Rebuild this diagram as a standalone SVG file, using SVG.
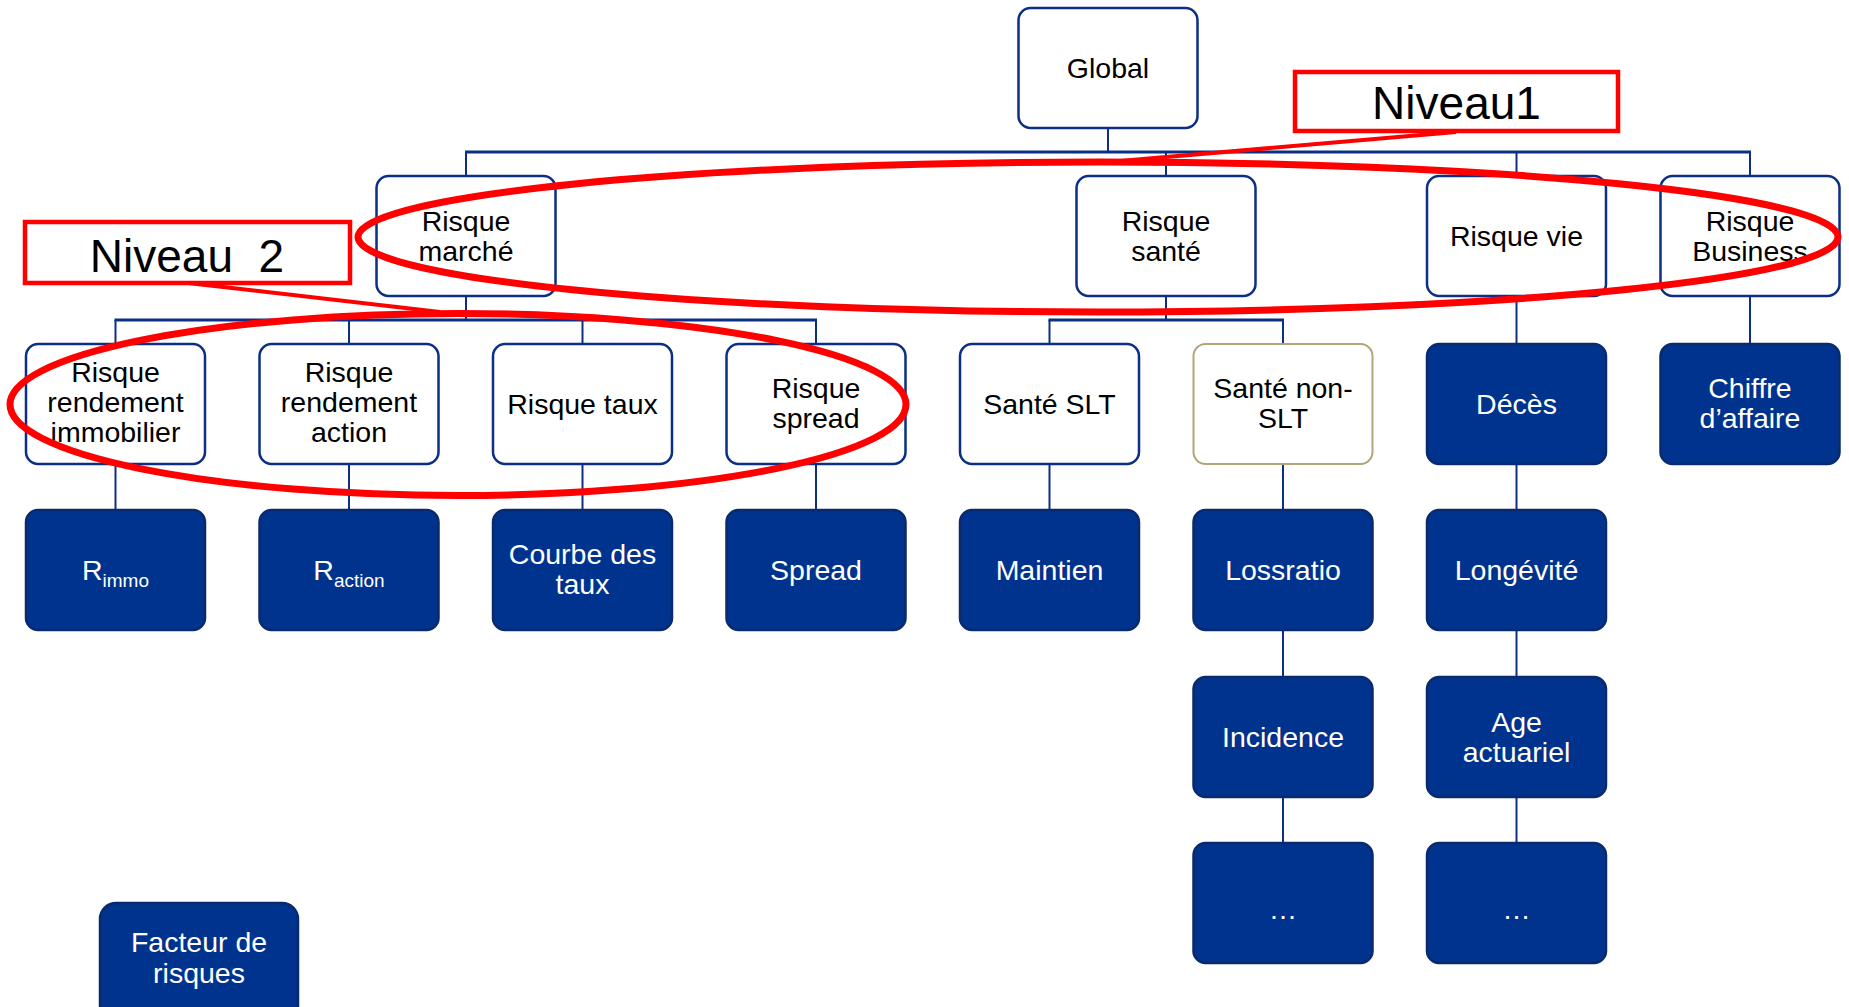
<svg xmlns="http://www.w3.org/2000/svg" width="1849" height="1007" viewBox="0 0 1849 1007">
  <style>
    text { font-family: "Liberation Sans", Arial, sans-serif; font-size: 28.5px; text-anchor: middle; }
    .light rect { fill: #ffffff; stroke: #0B2F85; stroke-width: 2.5; }
    .light text { fill: #000000; }
    .dark rect { fill: #00338D; stroke: #0A2A6E; stroke-width: 2.5; }
    .dark text { fill: #ffffff; }
    .beige rect { fill: #ffffff; stroke: #B3A57A; stroke-width: 2; }
    .beige text { fill: #000000; }
    .conn line { stroke: #0B2F85; stroke-width: 2; }
    .conn .bus { stroke-width: 3; }
    .note rect { fill: #ffffff; stroke: #FF0000; stroke-width: 4.5; }
    .note text { fill: #000000; font-size: 46px; }
    .mark { fill: none; stroke: #FF0000; stroke-width: 7; }
    .lead { stroke: #FF0000; stroke-width: 4; }
  </style>

  <!-- tree connectors -->
  <g id="connectors" class="conn">
    <line x1="1108" y1="128" x2="1108" y2="152"/>
    <line class="bus" x1="465" y1="152" x2="1751" y2="152"/>
    <line x1="466" y1="152" x2="466" y2="176"/>
    <line x1="1166" y1="152" x2="1166" y2="176"/>
    <line x1="1516.5" y1="152" x2="1516.5" y2="176"/>
    <line x1="1750" y1="152" x2="1750" y2="176"/>

    <line x1="466" y1="296" x2="466" y2="320"/>
    <line class="bus" x1="114.5" y1="320" x2="817" y2="320"/>
    <line x1="115.5" y1="320" x2="115.5" y2="344"/>
    <line x1="349" y1="320" x2="349" y2="344"/>
    <line x1="582.5" y1="320" x2="582.5" y2="344"/>
    <line x1="816" y1="320" x2="816" y2="344"/>

    <line x1="1166" y1="296" x2="1166" y2="320"/>
    <line class="bus" x1="1048.5" y1="320" x2="1284" y2="320"/>
    <line x1="1049.5" y1="320" x2="1049.5" y2="344"/>
    <line x1="1283" y1="320" x2="1283" y2="344"/>

    <line x1="1516.5" y1="296" x2="1516.5" y2="344"/>
    <line x1="1750" y1="296" x2="1750" y2="344"/>

    <line x1="115.5" y1="464" x2="115.5" y2="510"/>
    <line x1="349" y1="464" x2="349" y2="510"/>
    <line x1="582.5" y1="464" x2="582.5" y2="510"/>
    <line x1="816" y1="464" x2="816" y2="510"/>
    <line x1="1049.5" y1="464" x2="1049.5" y2="510"/>
    <line x1="1283" y1="464" x2="1283" y2="510"/>
    <line x1="1516.5" y1="464" x2="1516.5" y2="510"/>

    <line x1="1283" y1="630" x2="1283" y2="677"/>
    <line x1="1516.5" y1="630" x2="1516.5" y2="677"/>
    <line x1="1283" y1="797" x2="1283" y2="843"/>
    <line x1="1516.5" y1="797" x2="1516.5" y2="843"/>
  </g>

  <!-- root -->
  <g id="global" class="light">
    <rect x="1018.5" y="8" width="179" height="120" rx="12"/>
    <text x="1108" y="78">Global</text>
  </g>

  <!-- level 1 -->
  <g id="risque-marche" class="light">
    <rect x="376.5" y="176" width="179" height="120" rx="12"/>
    <text x="466" y="231">Risque</text>
    <text x="466" y="261">marché</text>
  </g>
  <g id="risque-sante" class="light">
    <rect x="1076.5" y="176" width="179" height="120" rx="12"/>
    <text x="1166" y="231">Risque</text>
    <text x="1166" y="261">santé</text>
  </g>
  <g id="risque-vie" class="light">
    <rect x="1427" y="176" width="179" height="120" rx="12"/>
    <text x="1516.5" y="246">Risque vie</text>
  </g>
  <g id="risque-business" class="light">
    <rect x="1660.5" y="176" width="179" height="120" rx="12"/>
    <text x="1750" y="231">Risque</text>
    <text x="1750" y="261">Business</text>
  </g>

  <!-- level 2 -->
  <g id="rendement-immobilier" class="light">
    <rect x="26" y="344" width="179" height="120" rx="12"/>
    <text x="115.5" y="382">Risque</text>
    <text x="115.5" y="412">rendement</text>
    <text x="115.5" y="442">immobilier</text>
  </g>
  <g id="rendement-action" class="light">
    <rect x="259.5" y="344" width="179" height="120" rx="12"/>
    <text x="349" y="382">Risque</text>
    <text x="349" y="412">rendement</text>
    <text x="349" y="442">action</text>
  </g>
  <g id="risque-taux" class="light">
    <rect x="493" y="344" width="179" height="120" rx="12"/>
    <text x="582.5" y="414">Risque taux</text>
  </g>
  <g id="risque-spread" class="light">
    <rect x="726.5" y="344" width="179" height="120" rx="12"/>
    <text x="816" y="398">Risque</text>
    <text x="816" y="428">spread</text>
  </g>
  <g id="sante-slt" class="light">
    <rect x="960" y="344" width="179" height="120" rx="12"/>
    <text x="1049.5" y="414">Santé SLT</text>
  </g>
  <g id="sante-non-slt" class="beige">
    <rect x="1193.5" y="344" width="179" height="120" rx="12"/>
    <text x="1283" y="398">Santé non-</text>
    <text x="1283" y="428">SLT</text>
  </g>
  <g id="deces" class="dark">
    <rect x="1427" y="344" width="179" height="120" rx="12"/>
    <text x="1516.5" y="414">Décès</text>
  </g>
  <g id="chiffre-affaire" class="dark">
    <rect x="1660.5" y="344" width="179" height="120" rx="12"/>
    <text x="1750" y="398">Chiffre</text>
    <text x="1750" y="428">d’affaire</text>
  </g>

  <!-- level 3 -->
  <g id="r-immo" class="dark">
    <rect x="26" y="510" width="179" height="120" rx="12"/>
    <text x="115.5" y="580">R<tspan font-size="19" dy="7">immo</tspan></text>
  </g>
  <g id="r-action" class="dark">
    <rect x="259.5" y="510" width="179" height="120" rx="12"/>
    <text x="349" y="580">R<tspan font-size="19" dy="7">action</tspan></text>
  </g>
  <g id="courbe-taux" class="dark">
    <rect x="493" y="510" width="179" height="120" rx="12"/>
    <text x="582.5" y="564">Courbe des</text>
    <text x="582.5" y="594">taux</text>
  </g>
  <g id="spread" class="dark">
    <rect x="726.5" y="510" width="179" height="120" rx="12"/>
    <text x="816" y="580">Spread</text>
  </g>
  <g id="maintien" class="dark">
    <rect x="960" y="510" width="179" height="120" rx="12"/>
    <text x="1049.5" y="580">Maintien</text>
  </g>
  <g id="lossratio" class="dark">
    <rect x="1193.5" y="510" width="179" height="120" rx="12"/>
    <text x="1283" y="580">Lossratio</text>
  </g>
  <g id="longevite" class="dark">
    <rect x="1427" y="510" width="179" height="120" rx="12"/>
    <text x="1516.5" y="580">Longévité</text>
  </g>

  <!-- level 4 -->
  <g id="incidence" class="dark">
    <rect x="1193.5" y="677" width="179" height="120" rx="12"/>
    <text x="1283" y="747">Incidence</text>
  </g>
  <g id="age-actuariel" class="dark">
    <rect x="1427" y="677" width="179" height="120" rx="12"/>
    <text x="1516.5" y="732">Age</text>
    <text x="1516.5" y="762">actuariel</text>
  </g>

  <!-- level 5 -->
  <g id="sante-suite" class="dark">
    <rect x="1193.5" y="843" width="179" height="120" rx="12"/>
    <text x="1283" y="919" font-size="22">…</text>
  </g>
  <g id="vie-suite" class="dark">
    <rect x="1427" y="843" width="179" height="120" rx="12"/>
    <text x="1516.5" y="919" font-size="22">…</text>
  </g>

  <!-- legend -->
  <g id="facteur-de-risques" class="dark">
    <rect x="100" y="903" width="198" height="130" rx="16"/>
    <text x="199" y="952" font-size="27">Facteur de</text>
    <text x="199" y="983" font-size="27">risques</text>
  </g>

  <!-- level annotations -->
  <g id="annotation-niveau1">
    <line class="lead" x1="1456" y1="132" x2="1120" y2="161"/>
    <ellipse class="mark" cx="1098" cy="237" rx="740" ry="75"/>
    <g class="note">
      <rect x="1295" y="72" width="323" height="59"/>
      <text x="1456.5" y="119">Niveau1</text>
    </g>
  </g>
  <g id="annotation-niveau2">
    <line class="lead" x1="188" y1="283" x2="440" y2="312"/>
    <ellipse class="mark" cx="458" cy="404.5" rx="448" ry="91"/>
    <g class="note">
      <rect x="25" y="222" width="325" height="61"/>
      <text x="187" y="272" xml:space="preserve">Niveau  2</text>
    </g>
  </g>
</svg>
